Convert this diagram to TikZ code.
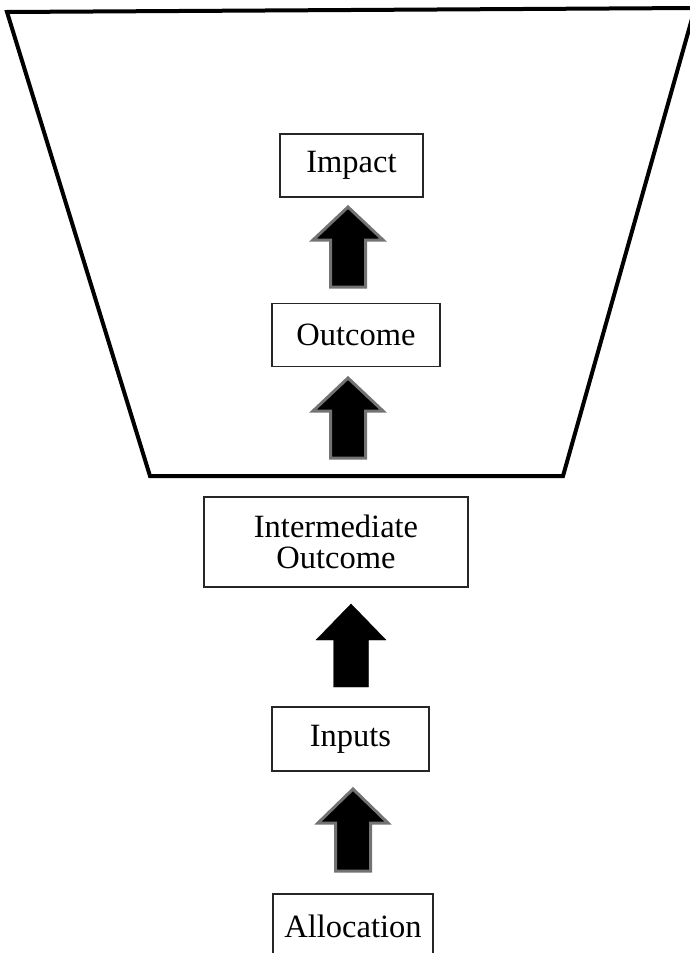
\documentclass[tikz,border=0pt]{standalone}
\usepackage{fontspec}
\setmainfont{Liberation Serif}
\usepackage{tikz}
\usetikzlibrary{positioning}

\tikzset{
    stage/.style={draw=black!85, line width=1.2pt, fill=white, inner sep=0pt,
        font=\fontsize{32.5}{31}\selectfont, align=center},
    funnel/.style={line width=4pt, line join=miter},
    blockarrow/.style={fill=black, draw=black!55, line width=3pt, line join=miter},
    solidarrow/.style={fill=black}
}

% block arrow pointing up: style, centre x, tip y, head base y, bottom y
\newcommand{\uparrowblock}[5]{%
    \draw[#1] (#2,#3) -- (#2+35,#4) -- (#2+17.5,#4) -- (#2+17.5,#5)
        -- (#2-17.5,#5) -- (#2-17.5,#4) -- (#2-35,#4) -- cycle;
}

\begin{document}
\begin{tikzpicture}[x=1pt, y=-1pt]
    \clip (0,0) rectangle (690,953);

    % Funnel
    \draw[funnel] (7,12) -- (695,8) -- (563,476) -- (150,476) -- cycle;

    % Stages
    \node[stage, minimum width=143pt, minimum height=63pt] (impact) at (351.5,165.5) {Impact};
    \node[stage, minimum width=168pt, minimum height=63pt] (outcome) at (356,335) {Outcome};
    \node[stage, minimum width=264pt, minimum height=90pt] (intermediate) at (336,542) {Intermediate\\Outcome};
    \node[stage, minimum width=157pt, minimum height=64pt] (inputs) at (350.5,739) {Inputs};
    \node[stage, minimum width=160pt, minimum height=64pt] (allocation) at (353,926) {Allocation};

    % Arrows
    \uparrowblock{blockarrow}{348}{207}{240}{287}
    \uparrowblock{blockarrow}{348}{378}{411}{458}
    \uparrowblock{solidarrow}{351}{604}{640}{687}
    \uparrowblock{blockarrow}{353}{789}{823}{871}
\end{tikzpicture}
\end{document}
